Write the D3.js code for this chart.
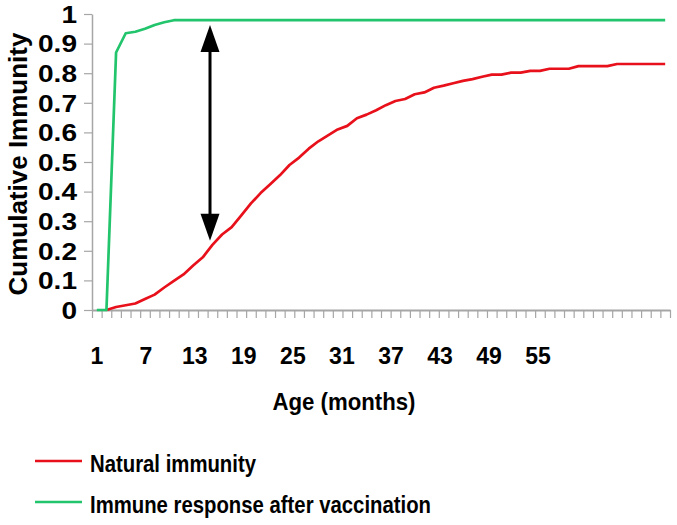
<!DOCTYPE html>
<html>
<head>
<meta charset="utf-8">
<script src="https://cdn.jsdelivr.net/npm/d3@7"></script>
<style>
  html, body { margin: 0; padding: 0; background: #fff; }
  svg { display: block; font-family: "Liberation Sans", Arial, sans-serif; font-weight: bold; }
</style>
</head>
<body>
<svg id="chart" width="677" height="525"></svg>
<script>
// ---- data ----
const months = [1,2,3,4,5,6,7,8,9,10,11,12,13,14,15,16,17,18,19,20,
  21,22,23,24,25,26,27,28,29,30,31,32,33,34,35,36,37,38,39,40,
  41,42,43,44,45,46,47,48,49,50,51,52,53,54,55,56,57,58,59,60];
const naturalImmunity = [null,0,0.010,0.016,0.022,0.037,0.052,0.076,0.098,0.120,
  0.150,0.178,0.220,0.255,0.280,0.320,0.360,0.395,0.425,0.455,
  0.490,0.515,0.545,0.570,0.590,0.610,0.622,0.648,0.660,0.675,
  0.692,0.706,0.713,0.729,0.735,0.751,0.758,0.766,0.774,0.780,
  0.788,0.795,0.795,0.802,0.802,0.808,0.808,0.815,0.815,0.815,
  0.824,0.824,0.824,0.824,0.831,0.831,0.831,0.831,0.831,0.831];
const vaccination = [0,0,0.870,0.935,0.940,0.950,0.963,0.972,0.979,0.979,
  0.979,0.979,0.979,0.979,0.979,0.979,0.979,0.979,0.979,0.979,
  0.979,0.979,0.979,0.979,0.979,0.979,0.979,0.979,0.979,0.979,
  0.979,0.979,0.979,0.979,0.979,0.979,0.979,0.979,0.979,0.979,
  0.979,0.979,0.979,0.979,0.979,0.979,0.979,0.979,0.979,0.979,
  0.979,0.979,0.979,0.979,0.979,0.979,0.979,0.979,0.979,0.979];
const yTickValues = [0,0.1,0.2,0.3,0.4,0.5,0.6,0.7,0.8,0.9,1];
const yTickLabels = ["0","0.1","0.2","0.3","0.4","0.5","0.6","0.7","0.8","0.9","1"];
const xTickLabels = [1,7,13,19,25,31,37,43,49,55];
const seriesNames = ["Natural immunity","Immune response after vaccination"];
const seriesColors = ["#e8101a","#22c46c"];
// annotation arrow: between vaccinated and natural curve (in data units)
const arrowMonthPos = 12.25;   // position along category axis (0..60)
const arrowTop = 0.963, arrowBottom = 0.234;

// ---- layout ----
const mLeft = 92, mRight = 670, mTop = 14, mBottom = 310;
const svg = d3.select("#chart");

const x = d3.scaleBand().domain(months).range([mLeft, mRight]).paddingInner(0).paddingOuter(0);
const xPos = m => x(m) + x.bandwidth() / 2;
const xLin = d3.scaleLinear().domain([0, months.length]).range([mLeft, mRight]);
const y = d3.scaleLinear().domain([0, 1]).range([mBottom, mTop]);
// label scale for category labels
const labelStep = 8.17;
const xLab = d3.scaleLinear().domain([1, 55]).range([xPos(1) - 0.5, xPos(1) - 0.5 + 54 * labelStep]);

const gray = "#a6a6a6";

// x axis tick marks
const xAxis = svg.append("g").attr("transform", `translate(0,${mBottom})`)
  .call(d3.axisBottom(xLin).tickValues(d3.range(0, months.length + 1)).tickSize(8).tickSizeOuter(0).tickFormat(""));
xAxis.select(".domain").attr("stroke", gray).attr("stroke-width", 2);
xAxis.selectAll(".tick line").attr("stroke", gray).attr("stroke-width", 1.2);

// x labels
const xLabAxis = svg.append("g").attr("transform", `translate(0,${mBottom})`)
  .call(d3.axisBottom(xLab).tickValues(xTickLabels).tickSize(0).tickFormat(d => d));
xLabAxis.select(".domain").remove();
xLabAxis.selectAll(".tick text")
  .attr("y", 54).attr("dy", 0)
  .attr("fill", "#000")
  .style("font-size", "23px").style("font-weight", "bold")
  .style("font-family", '"Liberation Sans", Arial, sans-serif');

// y axis
const yAxis = svg.append("g").attr("transform", `translate(${mLeft},0)`)
  .call(d3.axisLeft(y).tickValues(yTickValues).tickSize(8).tickSizeOuter(0)
    .tickFormat((d, i) => yTickLabels[i]));
yAxis.select(".domain").attr("stroke", gray).attr("stroke-width", 1.5);
yAxis.selectAll(".tick line").attr("stroke", gray).attr("stroke-width", 1.2);
const ySx = 1.22;
yAxis.selectAll(".tick text")
  .attr("x", -15 / ySx).attr("dy", "0.36em")
  .attr("transform", `scale(${ySx},1)`)
  .attr("fill", "#000")
  .style("font-size", "23px").style("font-weight", "bold")
  .style("font-family", '"Liberation Sans", Arial, sans-serif');

// lines
const line = d3.line()
  .defined(d => d.v !== null)
  .x(d => xPos(d.m))
  .y(d => y(d.v));
const series = [naturalImmunity, vaccination];
series.forEach((vals, k) => {
  svg.append("path")
    .datum(months.map((m, i) => ({ m, v: vals[i] })))
    .attr("fill", "none")
    .attr("stroke", seriesColors[k])
    .attr("stroke-width", 2.7)
    .attr("stroke-linejoin", "round")
    .attr("d", line);
});

// double-headed arrow
const ax = xLin(arrowMonthPos);
const yT = y(arrowTop), yB = y(arrowBottom);
const headH = 27, headW = 19;
svg.append("line").attr("x1", ax).attr("x2", ax)
  .attr("y1", yT + headH - 2).attr("y2", yB - headH + 2)
  .attr("stroke", "#000").attr("stroke-width", 3);
svg.append("path").attr("fill", "#000")
  .attr("d", `M${ax},${yT} L${ax - headW / 2},${yT + headH} L${ax + headW / 2},${yT + headH} Z`);
svg.append("path").attr("fill", "#000")
  .attr("d", `M${ax},${yB} L${ax - headW / 2},${yB - headH} L${ax + headW / 2},${yB - headH} Z`);

// axis titles
svg.append("text")
  .attr("transform", `translate(27,${(mTop + mBottom) / 2 + 2}) rotate(-90)`)
  .attr("text-anchor", "middle")
  .style("font-size", "26px")
  .text("Cumulative Immunity");
svg.append("text")
  .attr("x", 344).attr("y", 410)
  .attr("text-anchor", "middle")
  .attr("textLength", 143).attr("lengthAdjust", "spacingAndGlyphs")
  .style("font-size", "24px")
  .text("Age (months)");

// legend
const legendY = [461, 502];
const legendWidths = [166, 341];
seriesNames.forEach((name, k) => {
  svg.append("line")
    .attr("x1", 35).attr("x2", 82)
    .attr("y1", legendY[k]).attr("y2", legendY[k])
    .attr("stroke", seriesColors[k]).attr("stroke-width", 2.6);
  svg.append("text")
    .attr("x", 90).attr("y", legendY[k] + 10.5)
    .attr("textLength", legendWidths[k]).attr("lengthAdjust", "spacingAndGlyphs")
    .style("font-size", "23.5px")
    .text(name);
});
</script>
</body>
</html>
